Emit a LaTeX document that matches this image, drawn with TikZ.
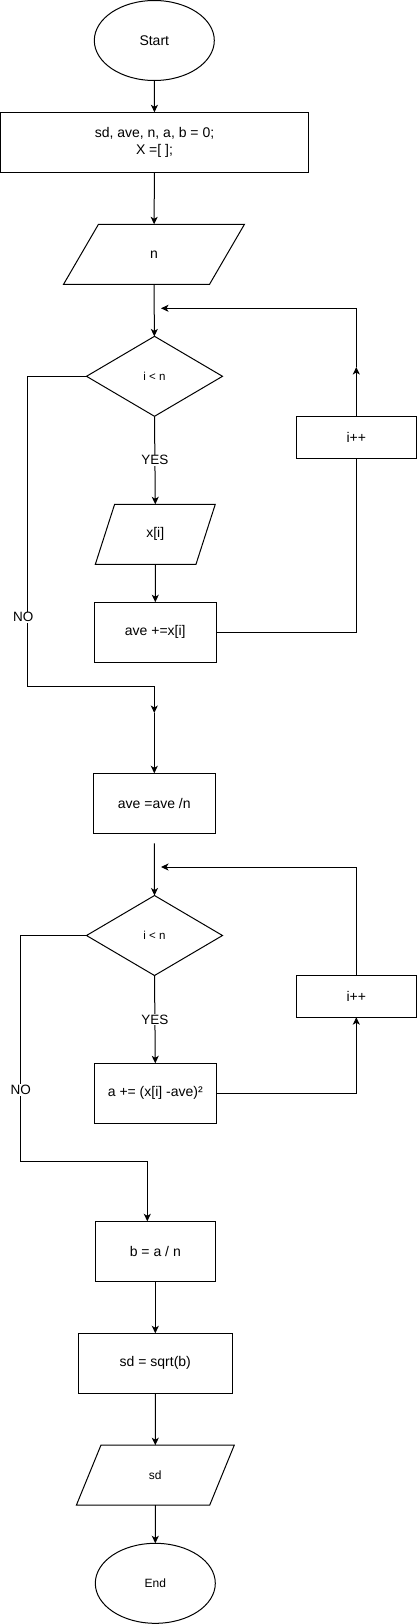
\documentclass[tikz,border=0pt]{standalone}
\usepackage{fontspec}
\setmainfont{Liberation Sans}
\usetikzlibrary{shapes.geometric,arrows.meta,calc}
\tikzset{
  base/.style={draw=black,line width=1pt,inner sep=0pt,outer sep=0pt,align=center,font=\fontsize{14}{16.5}\selectfont},
  term/.style={base,ellipse,minimum width=120pt,minimum height=80pt},
  proc/.style={base,rectangle,minimum height=60pt},
  io/.style={base,trapezium,trapezium stretches=true,trapezium left angle=72,trapezium right angle=108,minimum height=60pt},
  decide/.style={base,diamond,minimum width=136pt,minimum height=80pt,font=\fontsize{11.5}{13}\selectfont},
  arr/.style={line width=1pt,-{Stealth[length=7.5pt,width=7pt,inset=2pt]}},
  ln/.style={line width=1pt},
  lbl/.style={fill=white,inner sep=1pt,font=\fontsize{13.5}{15}\selectfont}
}
\begin{document}
\begin{tikzpicture}[x=1pt,y=-1pt]
\useasboundingbox (0,0) rectangle (417,1624);
% nodes
\node[term] (start) at (154.3,40.5) {Start};
\node[proc,minimum width=308pt] (init) at (154.5,142.3) {sd, ave, n, a, b = 0;\\X =[ ];};
\node[io,minimum width=181pt] (nin) at (154,254.3) {n};
\node[decide] (d1) at (154.5,376.3) {i {\textless} n};
\node[proc,minimum width=120pt,minimum height=42pt] (inc1) at (356.3,437.3) {i++};
\node[io,minimum width=120pt] (xi) at (155.3,534.3) {x[i]};
\node[proc,minimum width=122pt] (ave1) at (155.3,632.2) {ave +=x[i]};
\coordinate (j1) at (154.3,713);
\node[proc,minimum width=122pt] (ave2) at (154.3,803.3) {ave =ave /n};
\node[decide] (d2) at (154.5,935.5) {i {\textless} n};
\node[proc,minimum width=120pt,minimum height=42pt] (inc2) at (356.3,996.2) {i++};
\node[proc,minimum width=122pt] (acc) at (155.3,1093.3) {a += (x[i] -ave)²};
\node[proc,minimum width=120pt] (bdiv) at (155.3,1251.3) {b = a / n};
\node[proc,minimum width=154pt] (sqrtb) at (155.3,1363.3) {sd = sqrt(b)};
\node[io,minimum width=158pt,font=\fontsize{12}{14}\selectfont] (sdout) at (155.3,1475.2) {sd};
\node[term,font=\fontsize{12}{14}\selectfont] (end) at (155.3,1583.3) {End};
% helper coordinates
\coordinate (up1) at (356.3,367);
\coordinate (fb1) at (161,308.3);
\coordinate (fb2) at (161,867);
\coordinate (no1) at (27.3,686);
\coordinate (no2) at (20.7,1161);
\coordinate (nx) at (147.3,1161);
% connectors
\draw[arr] (start) -- (init);
\draw[arr] (init) -- (nin);
\draw[arr] (nin) -- (d1);
\draw[arr,line width=1.6pt] (inc1.north) -- (up1);
\draw[arr] (up1) |- (fb1);
\draw[arr] (d1.west) -| (no1) -| (j1);
\node[lbl] (no1lbl) at (23.3,617.3) {NO};
\draw[arr] (d1.south) -- node[lbl,pos=0.5] (yes1) {YES} (xi.north);
\draw[arr] (xi) -- (ave1);
\draw[ln] (ave1.east) -| (inc1.south);
\draw[arr] (j1) -- (ave2.north);
\draw[arr,shorten <=10pt] (ave2.south) -- (d2.north);
\draw[arr] (inc2.north) |- (fb2);
\draw[arr] (d2.south) -- node[lbl,pos=0.5] (yes2) {YES} (acc.north);
\draw[arr] (acc.east) -| (inc2.south);
\draw[arr] (d2.west) -| (no2) -- (nx) -- (nx |- bdiv.north);
\node[lbl] (no2lbl) at (20.7,1090) {NO};
\draw[arr] (bdiv) -- (sqrtb);
\draw[arr] (sqrtb) -- (sdout);
\draw[arr] (sdout) -- (end);
\end{tikzpicture}
\end{document}
